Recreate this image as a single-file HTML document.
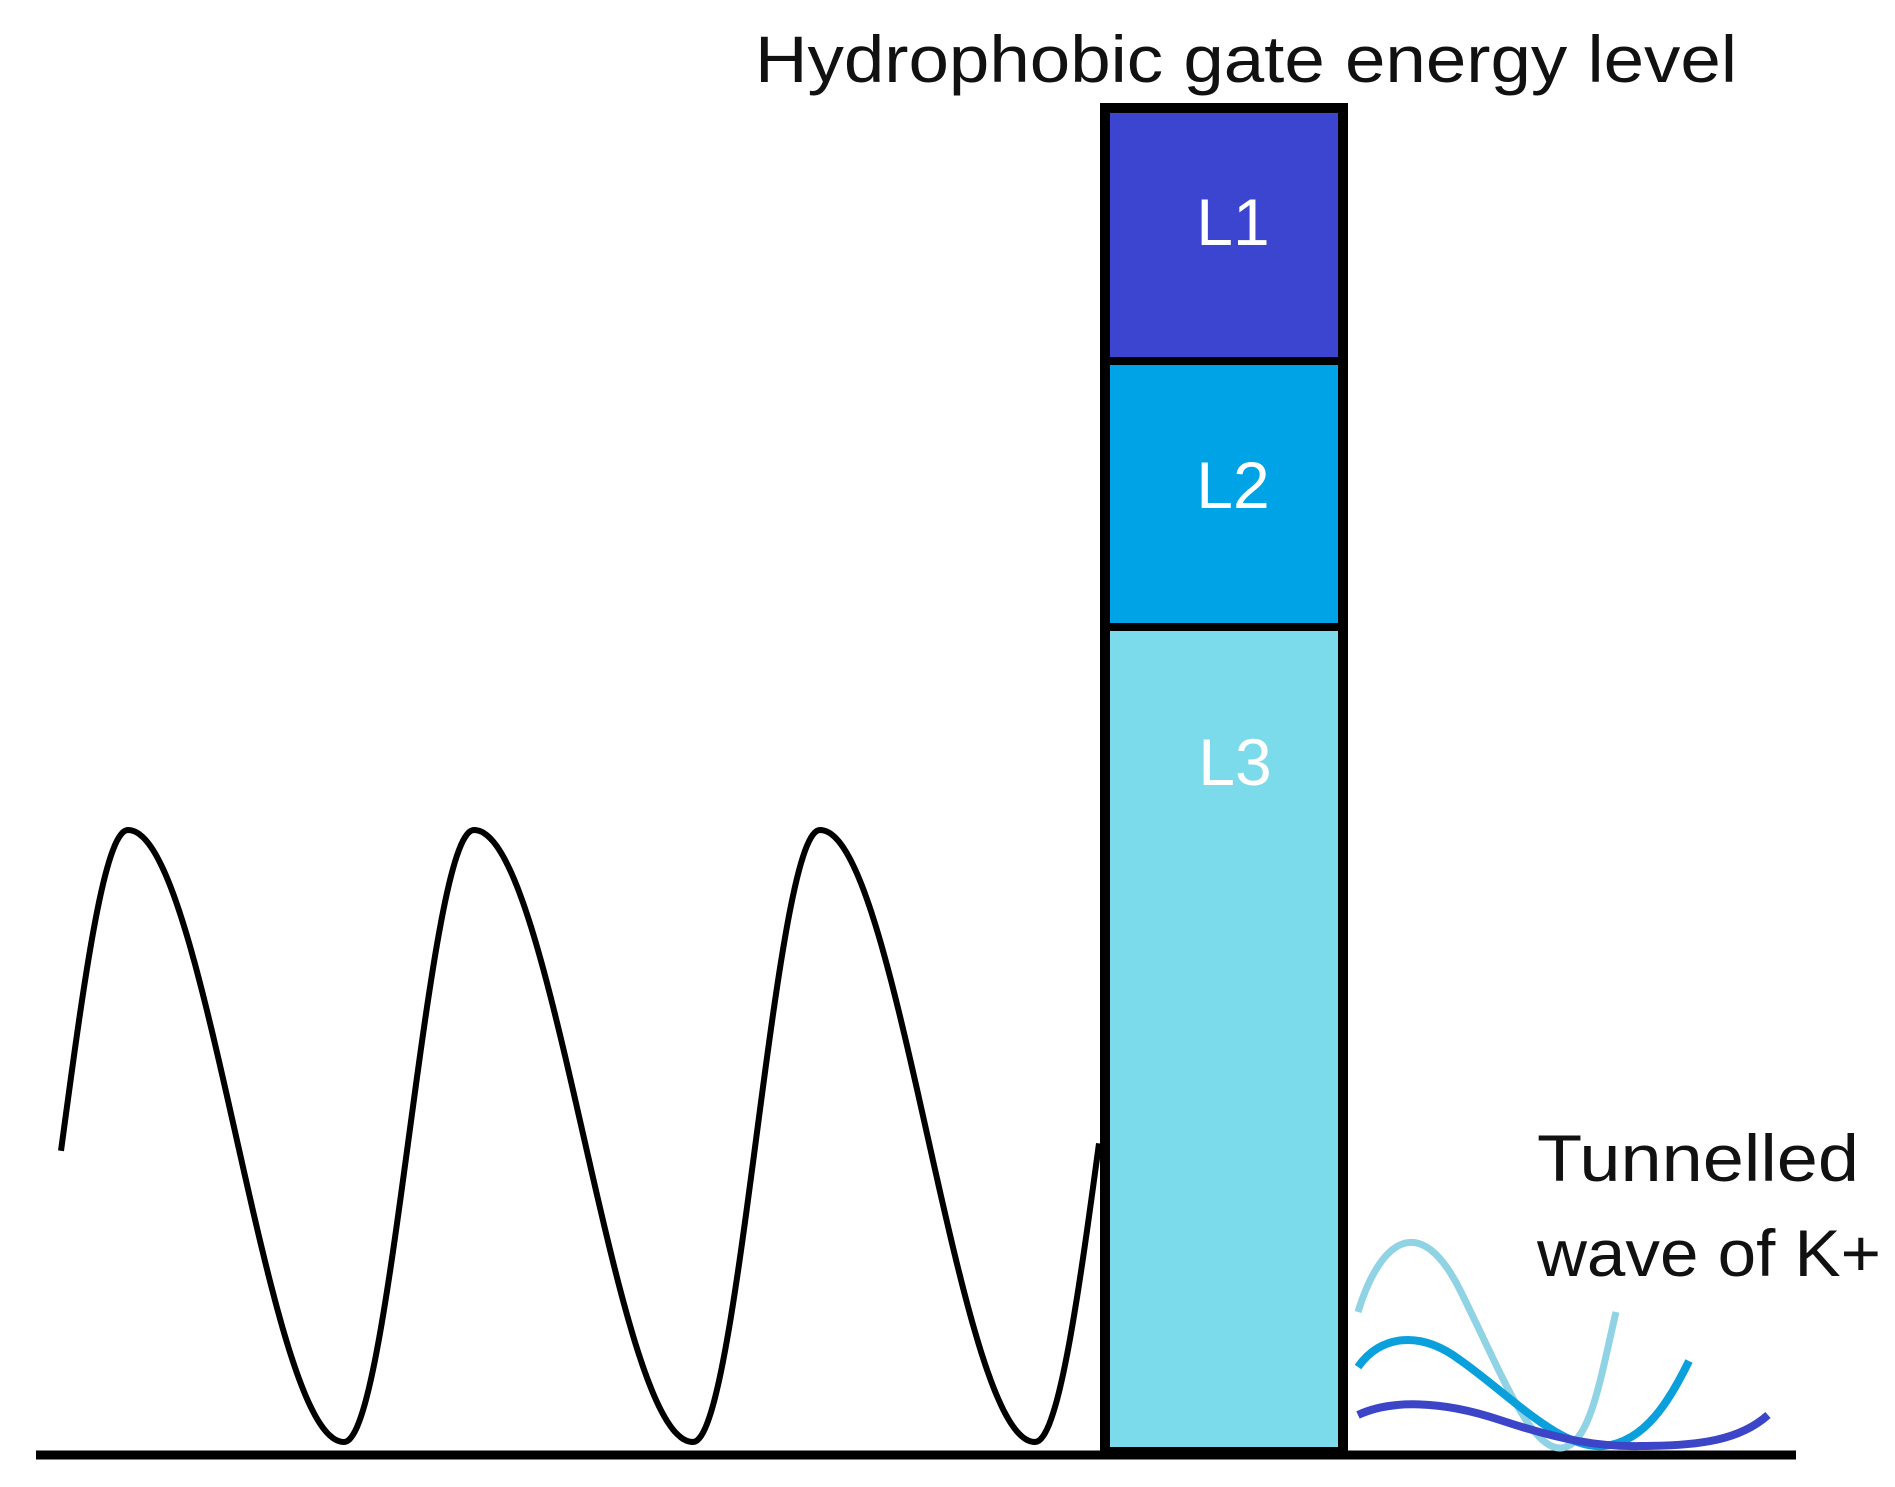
<!DOCTYPE html>
<html><head><style>
html,body{margin:0;padding:0;background:#fff;width:1895px;height:1487px;overflow:hidden}
svg{display:block}
text{font-family:"Liberation Sans",sans-serif}
</style></head><body>
<svg width="1895" height="1487" viewBox="0 0 1895 1487" xmlns="http://www.w3.org/2000/svg">
<text x="755" y="82" font-size="66" textLength="982" lengthAdjust="spacingAndGlyphs" fill="#111">Hydrophobic gate energy level</text>
<rect x="1105" y="108" width="238" height="253" fill="#3c45d0"/>
<rect x="1105" y="361" width="238" height="266" fill="#00a3e6"/>
<rect x="1105" y="627" width="238" height="825" fill="#7cdbeb"/>
<rect x="1105" y="108" width="238" height="1344" fill="none" stroke="#000" stroke-width="10"/>
<line x1="1105" y1="361" x2="1343" y2="361" stroke="#000" stroke-width="8"/>
<line x1="1105" y1="627" x2="1343" y2="627" stroke="#000" stroke-width="8"/>
<text x="1233" y="245" font-size="66" text-anchor="middle" fill="#fff">L1</text>
<text x="1233" y="508" font-size="66" text-anchor="middle" fill="#fff">L2</text>
<text x="1235" y="785" font-size="66" text-anchor="middle" fill="#fff">L3</text>
<line x1="36" y1="1455" x2="1796" y2="1455" stroke="#000" stroke-width="9"/>
<path id="sw" fill="none" stroke="#000" stroke-width="6"/>
<path d="M1358,1312 C1380,1240 1420,1210 1460,1290 C1500,1370 1530,1450 1561,1448 C1590,1446 1600,1380 1616,1312" fill="none" stroke="#8fd3e4" stroke-width="7"/>
<path d="M1358,1367 C1380,1335 1420,1330 1460,1360 C1510,1395 1560,1450 1604,1446 C1645,1442 1670,1400 1689,1361" fill="none" stroke="#0aa0dc" stroke-width="8"/>
<path d="M1358,1415 C1390,1400 1440,1400 1500,1420 C1560,1440 1600,1447 1640,1446 C1700,1446 1740,1440 1768,1415" fill="none" stroke="#3c45c8" stroke-width="8"/>
<text x="1537" y="1181" font-size="66" textLength="322" lengthAdjust="spacingAndGlyphs" fill="#111">Tunnelled</text>
<text x="1537" y="1276" font-size="66" textLength="344" lengthAdjust="spacingAndGlyphs" fill="#111">wave of K+</text>
</svg>
<script>
// extremes: [x,y]
var ex=[[-2,1442],[128,830],[344,1442],[474,830],[693,1442],[820,830],[1035,1442],[1165,830]];
var d="";
for(var x=61;x<=1100;x+=2){
  for(var i=0;i<ex.length-1;i++){if(x>=ex[i][0]&&x<=ex[i+1][0])break;}
  var a=ex[i],b=ex[i+1],t=(x-a[0])/(b[0]-a[0]);
  var y=a[1]+(b[1]-a[1])*(1-Math.cos(Math.PI*t))/2;
  d+=(x==61?"M":"L")+x+","+y.toFixed(1);
}
document.getElementById("sw").setAttribute("d",d);
</script>
</body></html>
